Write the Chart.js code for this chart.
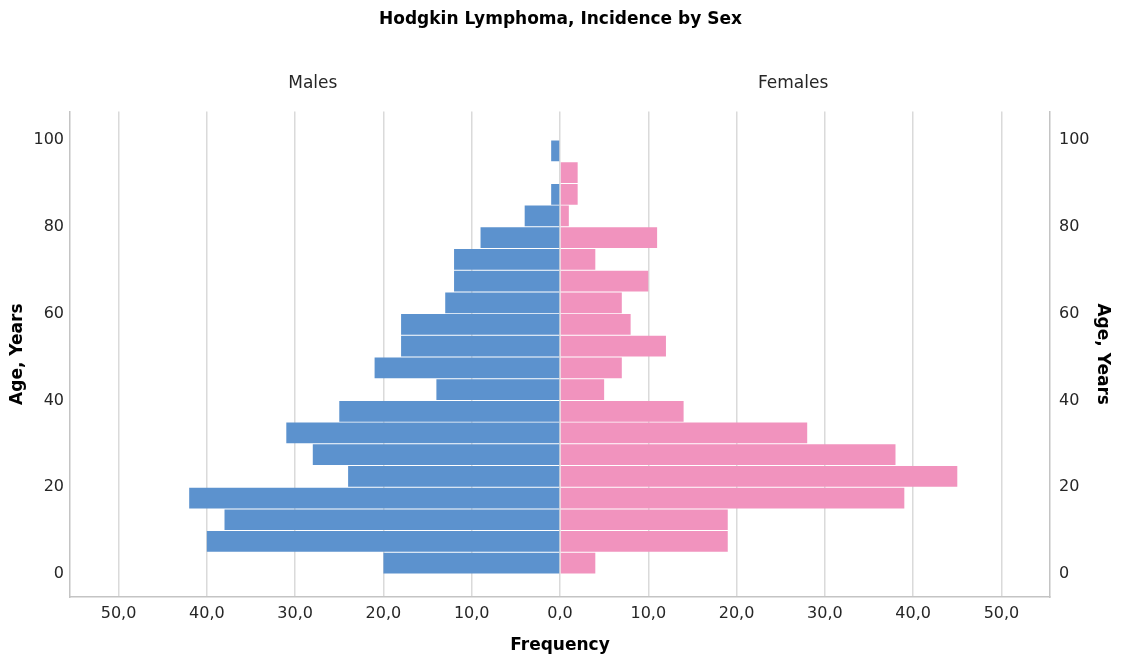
<!DOCTYPE html>
<html>
<head>
<meta charset="utf-8">
<title>Hodgkin Lymphoma, Incidence by Sex</title>
<script src="https://cdn.jsdelivr.net/npm/chart.js@4/dist/chart.umd.min.js"></script>
<style>
  html, body { margin: 0; padding: 0; background: #fff; }
  canvas { display: block; }
</style>
</head>
<body>
<canvas id="piramide" width="1121" height="657"></canvas>
<script>
// Datos: grupos de edad de 5 años (inicio de cada grupo)
const edadesInicio = [0, 5, 10, 15, 20, 25, 30, 35, 40, 45, 50, 55, 60, 65, 70, 75, 80, 85, 90, 95];
const hombres = [20, 40, 38, 42, 24, 28, 31, 25, 14, 21, 18, 18, 13, 12, 12, 9, 4, 1, 0, 1];
const mujeres = [4, 19, 19, 39, 45, 38, 28, 14, 5, 7, 12, 8, 7, 10, 4, 11, 1, 2, 2, 0];

// Etiquetas de ejes
const ticksEdad = [0, 20, 40, 60, 80, 100];
const ticksFrecuencia = [0, 10, 20, 30, 40, 50];
const etiquetasSexo = ['Males', 'Females'];

const COLOR_HOMBRES = '#5c92ce';
const COLOR_MUJERES = '#f193be';
const COLOR_GRID = '#dadada';
const COLOR_BORDE = '#c4c4c4';
const COLOR_TEXTO = '#262626';
const FUENTE = "'DejaVu Sans', sans-serif";

// Los hombres van a la izquierda (valores negativos)
const datosHombres = edadesInicio.map((e, i) => ({ y: e + 2.5, x: -hombres[i] }));
const datosMujeres = edadesInicio.map((e, i) => ({ y: e + 2.5, x: mujeres[i] }));

const formatoFrecuencia = (v) => Math.abs(v).toFixed(1).replace('.', ',');

new Chart(document.getElementById('piramide'), {
  type: 'bar',
  data: {
    datasets: [
      { label: 'Males', data: datosHombres, backgroundColor: COLOR_HOMBRES },
      { label: 'Females', data: datosMujeres, backgroundColor: COLOR_MUJERES }
    ]
  },
  options: {
    indexAxis: 'y',
    responsive: false,
    animation: false,
    layout: { padding: 0 },
    datasets: {
      bar: { grouped: false, barPercentage: 1, categoryPercentage: 0.955, borderWidth: 0 }
    },
    plugins: {
      legend: { display: false },
      tooltip: { enabled: false },
      title: {
        display: true,
        text: 'Hodgkin Lymphoma, Incidence by Sex',
        color: '#000',
        font: { family: FUENTE, size: 17, weight: 'bold' },
        padding: { top: 9, bottom: 0 }
      }
    },
    scales: {
      x: {
        type: 'linear',
        position: 'bottom',
        min: -55.5,
        max: 55.5,
        afterBuildTicks: (axis) => {
          const izq = ticksFrecuencia.slice(1).reverse().map(v => ({ value: -v }));
          const der = ticksFrecuencia.map(v => ({ value: v }));
          axis.ticks = izq.concat(der);
        },
        afterFit: (axis) => { axis.height = 60; },
        grid: { color: COLOR_GRID, lineWidth: 1.5, drawTicks: false },
        border: { color: COLOR_BORDE, width: 1.5 },
        ticks: {
          color: COLOR_TEXTO,
          font: { family: FUENTE, size: 16 },
          padding: 7,
          autoSkip: false,
          maxRotation: 0,
          callback: (v) => formatoFrecuencia(v)
        },
        title: {
          display: true,
          text: 'Frequency',
          color: '#000',
          font: { family: FUENTE, size: 17, weight: 'bold' },
          padding: { top: 0, bottom: 1 }
        }
      },
      xSexo: {
        type: 'linear',
        position: 'top',
        min: -55.5,
        max: 55.5,
        afterBuildTicks: (axis) => { axis.ticks = [{ value: -28 }, { value: 26.4 }]; },
        afterFit: (axis) => { axis.height = 82; },
        grid: { display: false, drawTicks: false },
        border: { display: false },
        ticks: {
          color: COLOR_TEXTO,
          font: { family: FUENTE, size: 17 },
          padding: 18,
          autoSkip: false,
          maxRotation: 0,
          callback: (v, i) => etiquetasSexo[i]
        }
      },
      y: {
        type: 'linear',
        position: 'left',
        offset: false,
        min: -5.3,
        max: 106.6,
        afterBuildTicks: (axis) => { axis.ticks = ticksEdad.map(v => ({ value: v })); },
        afterFit: (axis) => { axis.width = 70; },
        grid: { display: false, drawTicks: false, offset: false },
        border: { color: COLOR_BORDE, width: 1.5 },
        ticks: { color: COLOR_TEXTO, font: { family: FUENTE, size: 16 }, padding: 6 },
        title: {
          display: true,
          text: 'Age, Years',
          color: '#000',
          font: { family: FUENTE, size: 17, weight: 'bold' },
          padding: { top: 7, bottom: 0 }
        }
      },
      y2: {
        type: 'linear',
        position: 'right',
        offset: false,
        min: -5.3,
        max: 106.6,
        afterBuildTicks: (axis) => { axis.ticks = ticksEdad.map(v => ({ value: v })); },
        afterFit: (axis) => { axis.width = 71; },
        grid: { display: false, drawTicks: false, offset: false },
        border: { color: COLOR_BORDE, width: 1.5 },
        ticks: { color: COLOR_TEXTO, font: { family: FUENTE, size: 16 }, padding: 9 },
        title: {
          display: true,
          text: 'Age, Years',
          color: '#000',
          font: { family: FUENTE, size: 17, weight: 'bold' },
          padding: { top: 8, bottom: 0 }
        }
      }
    }
  }
});
</script>
</body>
</html>
